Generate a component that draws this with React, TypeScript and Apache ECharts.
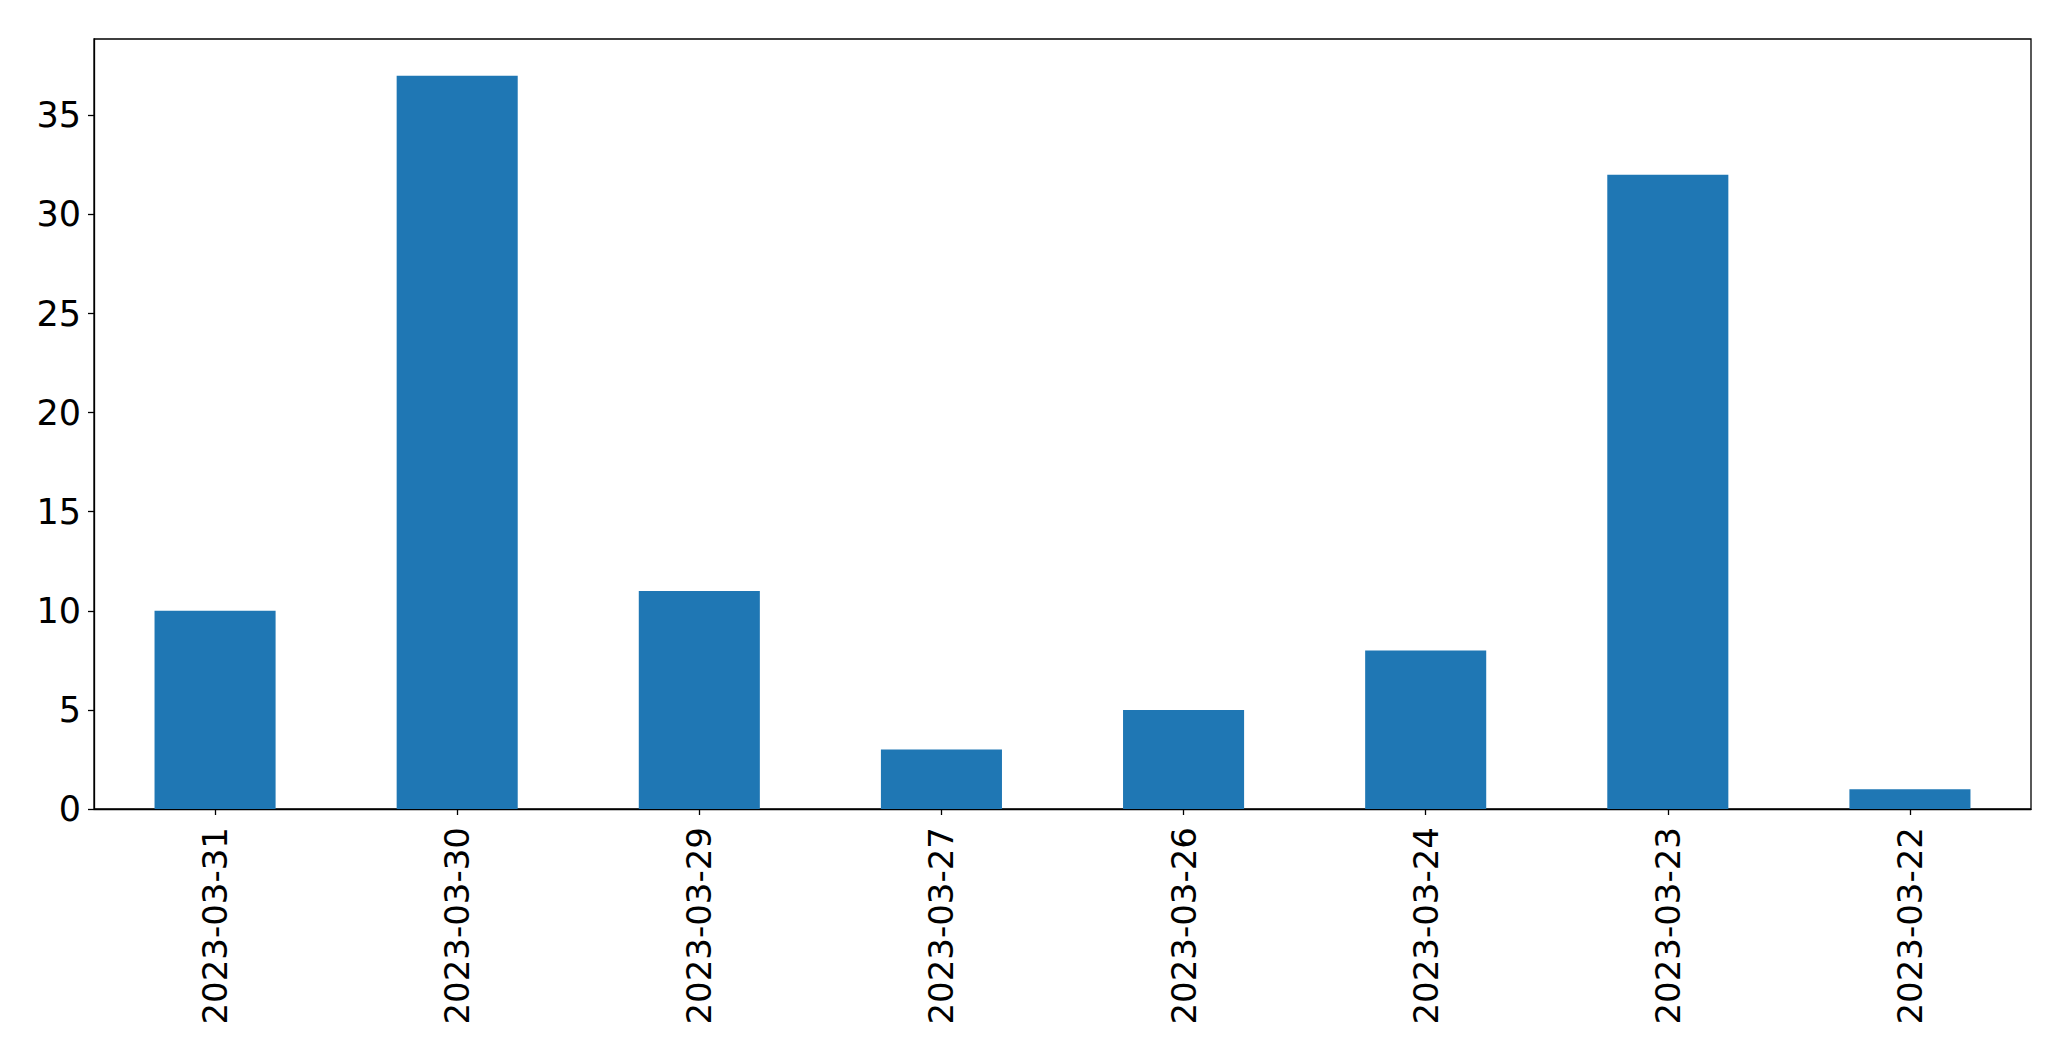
import React, { useEffect, useRef } from "react";
import * as echarts from "echarts";

const categories = ["2023-03-31", "2023-03-30", "2023-03-29", "2023-03-27", "2023-03-26", "2023-03-24", "2023-03-23", "2023-03-22"];
const values = [10, 37, 11, 3, 5, 8, 32, 1];
const yTicks = [0, 5, 10, 15, 20, 25, 30, 35];

export default function App() {
  const ref = useRef<HTMLDivElement>(null);
  useEffect(() => {
    if (!ref.current) return;
    const chart = echarts.init(ref.current, null, { renderer: "svg" });
    const font = "DejaVu Sans";
    chart.setOption({
      animation: false,
      backgroundColor: "#ffffff",
      grid: {
        left: 94,
        right: 40,
        top: 39,
        bottom: 252,
        show: true,
        borderColor: "#000000",
        borderWidth: 1.3,
        backgroundColor: "transparent",
      },
      xAxis: {
        type: "category",
        data: categories,
        boundaryGap: true,
        axisLine: { show: true, lineStyle: { color: "#000", width: 1.3 } },
        axisTick: { show: true, alignWithLabel: true, length: 6, lineStyle: { color: "#000", width: 1.3 } },
        axisLabel: { rotate: 90, fontSize: 34, fontFamily: font, color: "#000", margin: 18, interval: 0 },
        splitLine: { show: false },
      },
      yAxis: {
        type: "value",
        min: 0,
        max: 38.85,
        interval: 5,
        axisLine: { show: true, lineStyle: { color: "#000", width: 1.3 } },
        axisTick: { show: true, length: 6, lineStyle: { color: "#000", width: 1.3 }, customValues: yTicks },
        axisLabel: { fontSize: 35, fontFamily: font, color: "#000", margin: 13, customValues: yTicks },
        splitLine: { show: false },
      },
      series: [
        {
          type: "bar",
          data: values,
          barWidth: "50%",
          itemStyle: { color: "#1f77b4" },
        },
      ],
    });
    return () => chart.dispose();
  }, []);
  return <div ref={ref} style={{ position: "fixed", left: 0, top: 0, width: 2071, height: 1061 }} />;
}
